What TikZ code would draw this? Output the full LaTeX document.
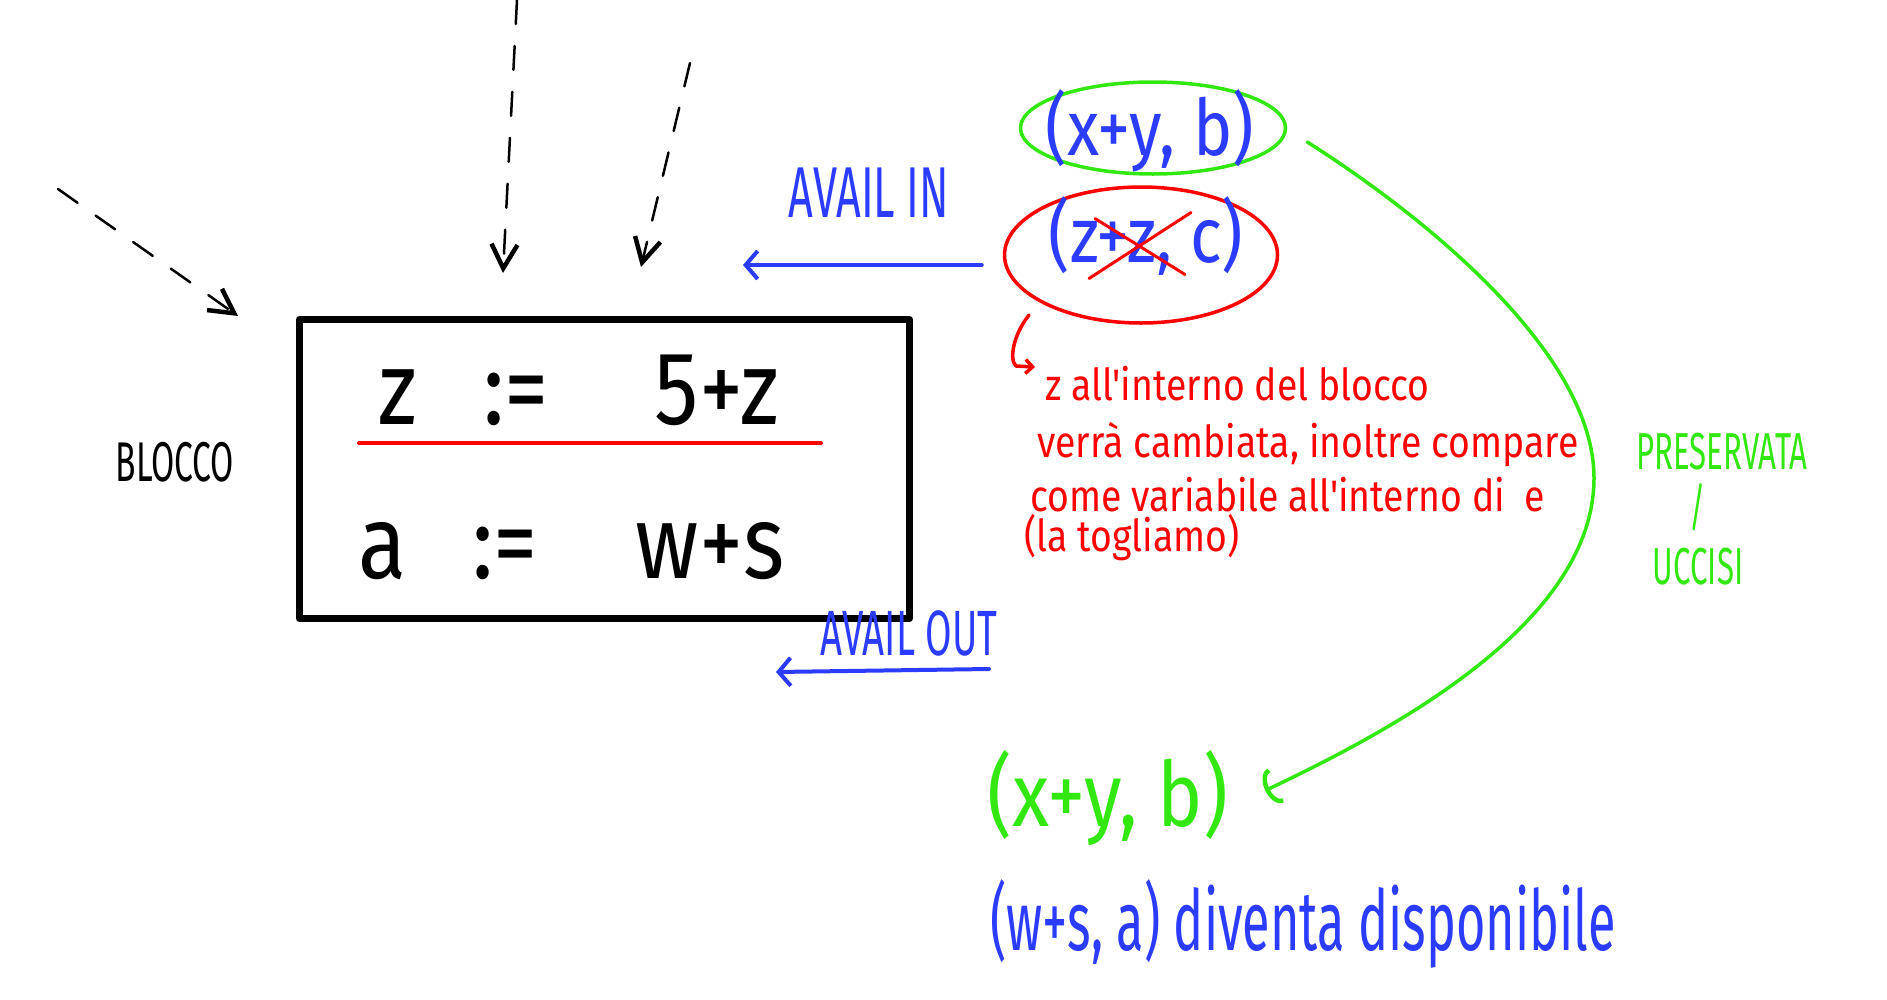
\documentclass[tikz,border=0pt]{standalone}
\usepackage{fontspec}
\usepackage{tikz}
\usetikzlibrary{scopes,positioning,arrows.meta}
\newfontfamily\handn{Fira Sans}[FakeStretch=0.6]
\newfontfamily\hand{Fira Sans}[FakeStretch=0.85]
\definecolor{hblue}{RGB}{43,60,255}
\definecolor{hred}{RGB}{255,0,0}
\definecolor{hgreen}{RGB}{51,232,17}
\tikzset{
  txt/.style={anchor=base,inner sep=0pt},
  stmt/.style={txt,font=\hand\fontsize{104}{104}\selectfont},
  capsn/.style={txt,font=\handn\fontsize{#1}{#1}\selectfont},
  pair/.style={txt,font=\hand\fontsize{#1}{#1}\selectfont},
  note/.style={txt,anchor=base west,hred,font=\hand\fontsize{44}{44}\selectfont},
  blkbox/.style={draw,line width=7pt,minimum width=610pt,minimum height=299pt,inner sep=0pt},
  ring/.style={ellipse,line width=3.5pt,inner sep=0pt},
  flow/.style={line width=2.5pt,dash pattern=on 24pt off 22pt,
    -{Straight Barb[length=24pt,width=26pt,line width=4.5pt]}},
  availarr/.style={hblue,line width=4pt,-{Straight Barb[length=12pt,width=28pt]}},
  hook/.style={hred,line width=3.5pt,-{Straight Barb[length=7pt,width=14pt]}},
  keep/.style={hgreen,line width=3.5pt,-{Arc Barb[length=12pt,width=38pt,line width=4.5pt]}}
}
\usetikzlibrary{shapes.geometric}

\begin{document}
\begin{tikzpicture}[x=1pt,y=-1pt,line cap=round,line join=round]
  \useasboundingbox (0,0) rectangle (1887,999);
  \fill[white] (0,0) rectangle (1887,999);
  \node[blkbox,anchor=north west] (blk) at (296,316) {};
  \node[stmt] (lhsz) at (398,424) {z};
  \node[stmt] (asz) at (516,424) {:=};
  \node[stmt] (rhsz) at (717,424) {5+z};
  \draw[hred,line width=4pt] (359,443) -- (821,443);
  \node[stmt] (lhsa) at (383,578) {a};
  \node[stmt] (asa) at (505,578) {:=};
  \node[stmt] (rhsa) at (710,578) {w+s};
  \node[capsn=56] (blocco) at (175,481) {BLOCCO};
  \coordinate (src1) at (58,189);   \coordinate (tip1) at (238,316);
  \coordinate (src2) at (517,0);    \coordinate (tip2) at (503,273);
  \coordinate (src3) at (690,63);   \coordinate (tip3) at (641,267);
  \foreach \s/\t in {src1/tip1,src2/tip2,src3/tip3}
    \draw[flow] (\s) -- (\t);
  \node[ring,draw=hgreen,minimum width=265pt,minimum height=92pt] (xyring) at (1153,128) {};
  \node[ring,draw=hred,minimum width=273pt,minimum height=136pt] (zzring) at (1141,255) {};
  \node[pair=78,hblue] (inxy) at (1150,155) {(x+y, b)};
  \node[pair=78,hblue] (inzz) at (1146,262) {(z+z, c)};
  {[hred,line width=3pt]
    \draw ([shift={(-51,-17)}]inzz.center) -- ([shift={(39,39)}]inzz.center);
    \draw ([shift={(-57,43)}]inzz.center) -- ([shift={(45,-23)}]inzz.center);
  }
  \node[capsn=72,hblue] (avin) at (869,217) {AVAIL IN};
  \coordinate (intip) at (743,265);
  \draw[availarr] ([shift={(-21,10)}]zzring.west) -- (intip);
  \node[capsn=64,hblue] (avout) at (909,655) {AVAIL OUT};
  \coordinate (outtail) at (989,669);
  \coordinate (outtip) at (776,672);
  \draw[availarr] (outtail) -- (outtip);
  \node[note] (note1) at (1045,400) {z all'interno del blocco};
  \node[note] (note2) at (1037,457) {verrà cambiata, inoltre compare};
  \node[note] (note3) at (1030,511) {come variabile all'interno di\ \ e};
  \node[note] (note4) at (1024,551) {(la togliamo)};
  \draw[hook] ([shift={(-112,60)}]zzring.center) .. controls (1013,335) and (1009,360) .. (1016,366)
    -- ([shift={(-10,-33)}]note1.base west);
  \node[pair=90,hgreen] (outxy) at (1108,826) {(x+y, b)};
  \draw[keep] ([shift={(20,14)}]xyring.east) .. controls (1444,229) and (1594,361) .. (1594,478)
    .. controls (1594,626) and (1384,734) .. ([shift={(37,-7)}]outxy.east);
  \node[capsn=52,hgreen] (pres) at (1722,469) {PRESERVATA};
  \node[capsn=52,hgreen] (slash) [below=14pt of pres,xshift=-24pt] {/};
  \node[capsn=52,hgreen] (ucc) [below=16pt of slash] {UCCISI};
  \node[capsn=84,hblue] (outws) at (1303,950) {(w+s, a) diventa disponibile};
\end{tikzpicture}
\end{document}
